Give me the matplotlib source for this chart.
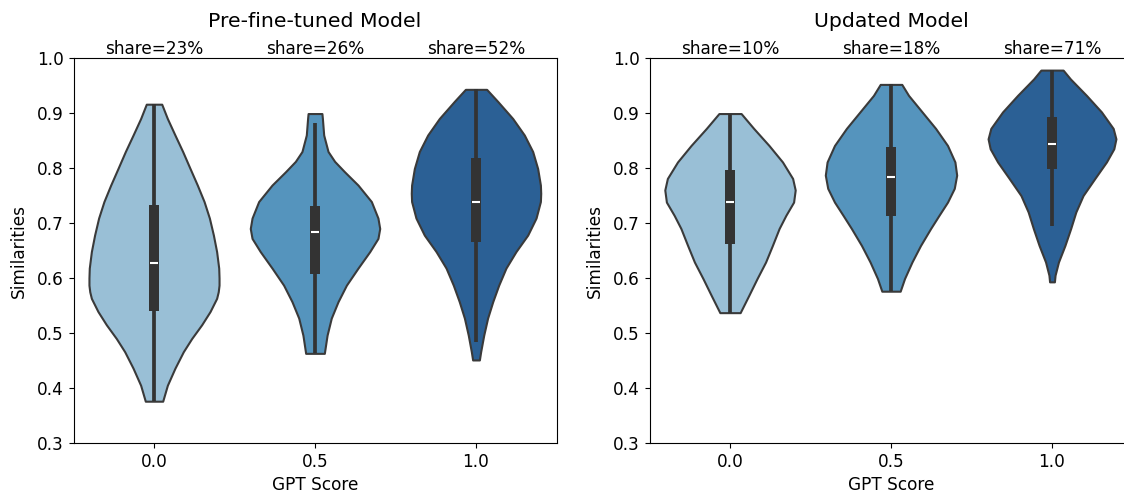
import numpy as np
import matplotlib.pyplot as plt
from matplotlib.patches import Rectangle

scores = ["0.0", "0.5", "1.0"]
colors = ["#99bfd6", "#5594bd", "#2b6095"]
edge = "#3a3a3a"

# outline of each violin: similarity level and half width (in x units)
pre_y_0 = [0.916, 0.890, 0.860, 0.830, 0.799, 0.769, 0.739, 0.709, 0.678, 0.648, 0.618, 0.600, 0.587, 0.575,
           0.563, 0.539, 0.515, 0.490, 0.466, 0.436, 0.405, 0.376]
pre_w_0 = [0.048, 0.083, 0.130, 0.178, 0.224, 0.269, 0.311, 0.344, 0.369, 0.389, 0.402, 0.404, 0.404, 0.399,
           0.389, 0.348, 0.296, 0.234, 0.182, 0.130, 0.083, 0.054]
pre_y_5 = [0.899, 0.890, 0.860, 0.830, 0.812, 0.793, 0.769, 0.739, 0.709, 0.690, 0.672, 0.648, 0.618, 0.587,
           0.557, 0.527, 0.496, 0.463]
pre_w_5 = [0.043, 0.046, 0.054, 0.081, 0.122, 0.184, 0.267, 0.350, 0.391, 0.402, 0.391, 0.340, 0.267, 0.195,
           0.143, 0.101, 0.075, 0.058]
pre_y_1 = [0.943, 0.921, 0.890, 0.860, 0.830, 0.799, 0.769, 0.754, 0.739, 0.709, 0.678, 0.648, 0.618, 0.587,
           0.557, 0.527, 0.496, 0.466, 0.451]
pre_w_1 = [0.066, 0.135, 0.228, 0.300, 0.352, 0.383, 0.400, 0.402, 0.400, 0.373, 0.321, 0.248, 0.186, 0.141,
           0.104, 0.072, 0.048, 0.029, 0.021]

upd_y_0 = [0.899, 0.872, 0.841, 0.811, 0.781, 0.760, 0.738, 0.714, 0.690, 0.659, 0.629, 0.599, 0.568, 0.537]
upd_w_0 = [0.069, 0.147, 0.242, 0.326, 0.389, 0.405, 0.395, 0.347, 0.305, 0.263, 0.221, 0.168, 0.116, 0.063]
upd_y_5 = [0.952, 0.932, 0.902, 0.872, 0.841, 0.811, 0.787, 0.763, 0.738, 0.714, 0.690, 0.659, 0.629, 0.599, 0.576]
upd_w_5 = [0.067, 0.109, 0.193, 0.277, 0.351, 0.397, 0.408, 0.393, 0.351, 0.298, 0.246, 0.183, 0.130, 0.084, 0.057]
upd_y_1 = [0.978, 0.962, 0.932, 0.902, 0.872, 0.853, 0.835, 0.811, 0.781, 0.750, 0.720, 0.690, 0.659, 0.629,
           0.605, 0.593]
upd_w_1 = [0.069, 0.114, 0.214, 0.307, 0.380, 0.397, 0.384, 0.338, 0.266, 0.193, 0.148, 0.116, 0.080, 0.040,
           0.019, 0.015]

# inner box: q1, median, q3, whisker low, whisker high
pre_box = [(0.540, 0.628, 0.733, 0.376, 0.916),
           (0.607, 0.683, 0.731, 0.463, 0.881),
           (0.666, 0.739, 0.818, 0.484, 0.943)]
upd_box = [(0.661, 0.738, 0.797, 0.537, 0.899),
           (0.712, 0.783, 0.839, 0.576, 0.952),
           (0.798, 0.844, 0.892, 0.694, 0.979)]

pre_share = [23, 26, 52]
upd_share = [10, 18, 71]


def draw(ax, outlines, boxes, shares, title):
    for i, (ys, ws) in enumerate(outlines):
        ys = np.array(ys)
        ws = np.array(ws)
        ax.fill_betweenx(ys, i - ws, i + ws, facecolor=colors[i], edgecolor=edge,
                         linewidth=1.5, joinstyle="round", zorder=2)
        q1, med, q3, lo, hi = boxes[i]
        ax.vlines(i, lo, hi, color="#333333", linewidth=2.7, zorder=3)
        ax.add_patch(Rectangle((i - 0.03, q1), 0.06, q3 - q1, facecolor="#333333", edgecolor="none", zorder=3))
        ax.hlines(med, i - 0.025, i + 0.025, color="white", linewidth=1.5, zorder=4)
        ax.annotate(f"share={shares[i]}%", xy=(i, 1), xycoords=("data", "axes fraction"),
                    xytext=(0, 2.7), textcoords="offset points", ha="center", va="baseline", fontsize=12.2)
    ax.set_xlim(-0.5, 2.5)
    ax.set_ylim(0.3, 1.0)
    ax.set_xticks(range(3))
    ax.set_xticklabels(scores)
    ax.set_yticks(np.arange(0.3, 1.01, 0.1))
    ax.set_xlabel("GPT Score", fontsize=12.2)
    ax.set_ylabel("Similarities", fontsize=12.2, labelpad=6.5)
    ax.set_title(title, fontsize=14.7, pad=22.5)
    ax.tick_params(labelsize=12.2)


fig = plt.figure(figsize=(11.24, 4.95), dpi=100)
ax1 = fig.add_axes([73.5 / 1124, 1 - 443 / 495, 483 / 1124, 385 / 495])
ax2 = fig.add_axes([649.5 / 1124, 1 - 443 / 495, 483 / 1124, 385 / 495])

draw(ax1, [(pre_y_0, pre_w_0), (pre_y_5, pre_w_5), (pre_y_1, pre_w_1)], pre_box, pre_share, "Pre-fine-tuned Model")
draw(ax2, [(upd_y_0, upd_w_0), (upd_y_5, upd_w_5), (upd_y_1, upd_w_1)], upd_box, upd_share, "Updated Model")

fig.savefig("out.png", dpi=100)
